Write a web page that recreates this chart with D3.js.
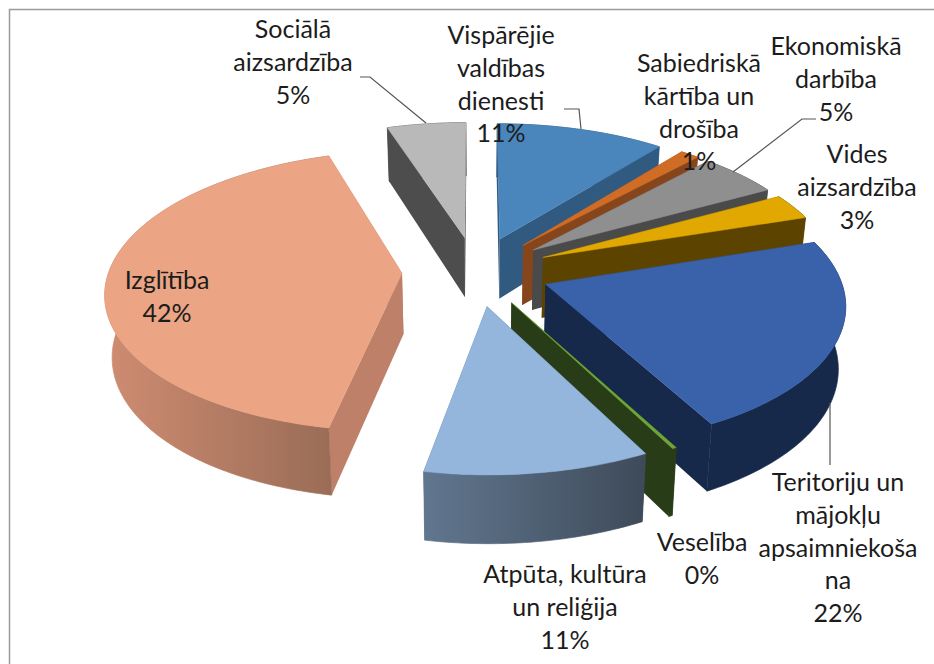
<!DOCTYPE html>
<html>
<head>
<meta charset="utf-8">
<script src="https://cdn.jsdelivr.net/npm/d3@7"></script>
<style>
  html, body { margin: 0; padding: 0; background: #fff; }
  svg { display: block; }
  text { font-family: Lato, "Open Sans", sans-serif; font-size: 25px; fill: #1c1c1c; }
</style>
</head>
<body>
<div id="chart"></div>
<script>
// budget shares, clockwise from 12 o'clock
const categories = ["Vispārējie valdības dienesti", "Sabiedriskā kārtība un drošība", "Ekonomiskā darbība",
  "Vides aizsardzība", "Teritoriju un mājokļu apsaimniekošana", "Veselība",
  "Atpūta, kultūra un reliģija", "Izglītība", "Sociālā aizsardzība"];
const values = [10.7, 1.2, 5.1, 3, 22.2, 0.2, 10.6, 42, 5];
const labelLines = [
  ["Vispārējie", "valdības", "dienesti"],
  ["Sabiedriskā", "kārtība un", "drošība"],
  ["Ekonomiskā", "darbība"],
  ["Vides", "aizsardzība"],
  ["Teritoriju un", "mājokļu", "apsaimniekoša", "na"],
  ["Veselība"],
  ["Atpūta, kultūra", "un reliģija"],
  ["Izglītība"],
  ["Sociālā", "aizsardzība"]
];
const topColors = ["#4a86bb", "#cf6d27", "#8f8f8f", "#e0a800", "#3a62ab", "#6ea536", "#94b6dd", "#eba484", "#b9b9b9"];
const sideColors = ["#305a80", "#86451b", "#4a4a4a", "#5c4400", "#17294a", "#283c17", "#3e4a59", "#bf806a", "#4d4d4d"];
const wallLeft = ["#305a80", "#86451b", "#4a4a4a", "#5c4400", "#17294a", "#283c17", "#61778f", "#cf8c72", "#4d4d4d"];
const wallRight = ["#305a80", "#86451b", "#4a4a4a", "#5c4400", "#17294a", "#283c17", "#3e4a59", "#9a6c56", "#4d4d4d"];

// layout, pixels
const width = 934, height = 664;
const cx = 476, cy = 271;
const radius = 293, explode = 74;
const tilt = 0.469, persp = 0.00043;
const depth = 61, depthPersp = 0.00035, bottomShrink = 0.98;
const lineHeight = 32.8;
// centre x and baseline of the first line
const labelPos = [[501, 44], [699, 72], [836, 55], [857, 163], [838, 491], [702, 551], [565, 583], [167, 289], [293, 38]];
const leaders = [
  [[360, 77], [370, 77], [426, 123]],
  [[564, 109], [579, 109], [581, 129]],
  [[816, 119], [802, 119], [733, 172]],
  [[830, 403], [830, 465]]
];

let svg = d3.select("#chart")
  .append("svg")
    .attr("width", width)
    .attr("height", height);

svg.append("rect")
  .attr("width", width)
  .attr("height", height)
  .attr("fill", "#fff");

// frame: only top and left edge are inside the picture
svg.append("path")
  .attr("d", "M9.5," + height + "V9.5H" + width)
  .attr("fill", "none")
  .attr("stroke", "#9a9a9a")
  .attr("stroke-width", 1.5);

let pie = d3.pie().sort(null).value(d => d);
let arcs = pie(values);

// ground plane (u right, v towards viewer) to screen
function project(u, v, bottom) {
  let k = 1 / (1 - persp * v);
  let x = cx + u * k;
  let y = cy + tilt * v * k;
  if (bottom) {
    x = cx + (x - cx) * bottomShrink;
    y += depth * (1 + depthPersp * v);
  }
  return [x, y];
}

// point of a slice at radius r and angle a
function slicePoint(d, r, a, bottom) {
  let mid = (d.startAngle + d.endAngle) / 2;
  let u = explode * Math.sin(mid) + r * Math.sin(a);
  let v = -explode * Math.cos(mid) - r * Math.cos(a);
  return project(u, v, bottom);
}

function arcAngles(d) {
  let n = Math.max(2, Math.ceil((d.endAngle - d.startAngle) / 0.02));
  return d3.range(n + 1).map(i => d.startAngle + (d.endAngle - d.startAngle) * i / n);
}

let line = d3.line();
let closed = pts => line(pts) + "Z";

let defs = svg.append("defs");
values.forEach((v, i) => {
  let g = defs.append("linearGradient").attr("id", "wall" + i);
  g.append("stop").attr("offset", "0%").attr("stop-color", wallLeft[i]);
  g.append("stop").attr("offset", "100%").attr("stop-color", wallRight[i]);
});

// back to front, so near slices cover the walls behind them
let drawOrder = [8, 7, 0, 1, 2, 3, 4, 5, 6];

let slices = svg.append("g")
  .selectAll("g")
  .data(drawOrder.map(i => ({i: i, d: arcs[i]})))
  .enter().append("g");

// side walls
slices.selectAll("path.side")
  .data(s => [s.d.startAngle, s.d.endAngle].map(a => ({s: s, a: a})))
  .enter().append("path")
    .attr("class", "side")
    .attr("fill", w => sideColors[w.s.i])
    .attr("d", w => closed([
      slicePoint(w.s.d, 0, w.a, false),
      slicePoint(w.s.d, radius, w.a, false),
      slicePoint(w.s.d, radius, w.a, true),
      slicePoint(w.s.d, 0, w.a, true)
    ]));

// outer wall, stroked to hide the seam against the side wall
slices.append("path")
  .attr("fill", s => "url(#wall" + s.i + ")")
  .attr("stroke", s => "url(#wall" + s.i + ")")
  .attr("stroke-width", 0.7)
  .attr("d", s => {
    let angles = arcAngles(s.d);
    let upper = angles.map(a => slicePoint(s.d, radius, a, false));
    let lower = angles.map(a => slicePoint(s.d, radius, a, true)).reverse();
    return closed(upper.concat(lower));
  });

// top face
slices.append("path")
  .attr("fill", s => topColors[s.i])
  .attr("stroke", s => topColors[s.i])
  .attr("stroke-width", 0.5)
  .attr("d", s => closed([slicePoint(s.d, 0, s.d.startAngle, false)]
    .concat(arcAngles(s.d).map(a => slicePoint(s.d, radius, a, false)))));

// leader lines
svg.append("g")
  .selectAll("path")
  .data(leaders)
  .enter().append("path")
    .attr("d", d => line(d))
    .attr("fill", "none")
    .attr("stroke", "#555")
    .attr("stroke-width", 1.2);

// labels
let labels = svg.append("g")
  .selectAll("text")
  .data(categories)
  .enter().append("text")
    .attr("text-anchor", "middle")
    .attr("transform", (d, i) => "translate(" + labelPos[i][0] + "," + labelPos[i][1] + ")");

labels.selectAll("tspan")
  .data((d, i) => labelLines[i].concat(Math.round(values[i]) + "%"))
  .enter().append("tspan")
    .attr("x", 0)
    .attr("y", (d, j) => j * lineHeight)
    .text(d => d);
</script>
</body>
</html>
